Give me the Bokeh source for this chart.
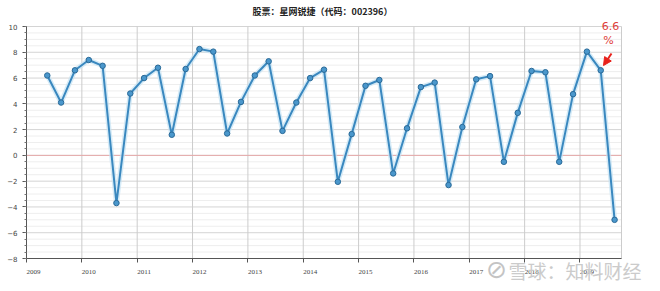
from bokeh.plotting import figure
from bokeh.models import (FixedTicker, Label, LabelSet, ColumnDataSource, Arrow,
                          NormalHead)
from bokeh.embed import file_html
from bokeh.resources import INLINE

title_text = "股票：星网锐捷（代码：002396）"
quarters = ["2009Q2", "2009Q3", "2009Q4",
            "2010Q1", "2010Q2", "2010Q3", "2010Q4",
            "2011Q1", "2011Q2", "2011Q3", "2011Q4",
            "2012Q1", "2012Q2", "2012Q3", "2012Q4",
            "2013Q1", "2013Q2", "2013Q3", "2013Q4",
            "2014Q1", "2014Q2", "2014Q3", "2014Q4",
            "2015Q1", "2015Q2", "2015Q3", "2015Q4",
            "2016Q1", "2016Q2", "2016Q3", "2016Q4",
            "2017Q1", "2017Q2", "2017Q3", "2017Q4",
            "2018Q1", "2018Q2", "2018Q3", "2018Q4",
            "2019Q1", "2019Q2", "2019Q3"]
values = [6.2, 4.1, 6.6,
          7.4, 6.95, -3.7, 4.8,
          6.0, 6.8, 1.6, 6.7,
          8.25, 8.05, 1.7, 4.15,
          6.2, 7.3, 1.9, 4.1,
          6.0, 6.65, -2.05, 1.65,
          5.4, 5.85, -1.4, 2.1,
          5.3, 5.65, -2.3, 2.2,
          5.9, 6.15, -0.5, 3.3,
          6.55, 6.45, -0.5, 4.75,
          8.05, 6.6, -5.0]
year_ticks = [2009, 2010, 2011, 2012, 2013, 2014, 2015, 2016, 2017, 2018, 2019]
y_ticks = [-8, -6, -4, -2, 0, 2, 4, 6, 8, 10]
watermark = "雪球：知料财经"

# axis extents of the plotting area
X_START, X_END = 2009, 2019.75
Y_START, Y_END = -8, 10

# pixel geometry of the plotting area inside the 660x291 canvas
W, H = 660, 291
LEFT, RIGHT, TOP, BOTTOM = 26, 621, 26, 258
PPX = (RIGHT - LEFT) / (X_END - X_START)
PPY = (BOTTOM - TOP) / (Y_END - Y_START)


def sx(px):
    return X_START + (px - LEFT) / PPX


def sy(py):
    return Y_END - (py - TOP) / PPY


# quarter -> fractional year (middle of quarter)
xs = [int(q[:4]) + (int(q[5]) - 0.5) / 4 for q in quarters]

p = figure(width=W, height=H, output_backend="svg", toolbar_location=None,
           x_range=(sx(0), sx(W)), y_range=(sy(H), sy(0)), min_border=0)
p.background_fill_color = "#ffffff"
p.border_fill_color = "#ffffff"
p.outline_line_color = None
p.grid.visible = False

# manual grid limited to the plotting area
minor_y = [v / 2 for v in range(2 * Y_START, 2 * Y_END + 1) if v % 4 != 0]
p.segment(x0=[X_START] * len(minor_y), x1=[X_END] * len(minor_y),
          y0=minor_y, y1=minor_y, line_color="#eeeeee", line_width=1)
p.segment(x0=[X_START] * len(y_ticks), x1=[X_END] * len(y_ticks),
          y0=y_ticks, y1=y_ticks, line_color="#d4d4d4", line_width=1)
vx = year_ticks[1:] + [X_END]
p.segment(x0=vx, x1=vx, y0=[Y_START] * len(vx), y1=[Y_END] * len(vx),
          line_color="#cccccc", line_width=1)
p.segment(x0=[X_START], x1=[X_END], y0=[0], y1=[0],
          line_color="#e6a9a9", line_width=1)

# axes drawn at fixed locations
p.xaxis.fixed_location = Y_START
p.xaxis.bounds = (X_START, X_END)
p.xaxis.ticker = FixedTicker(ticks=year_ticks)
p.xaxis.major_label_text_alpha = 0
p.xaxis.major_label_text_font_size = "7px"
p.xaxis.axis_line_color = "#555555"
p.xaxis.major_tick_line_color = "#555555"
p.xaxis.major_tick_out = 4
p.xaxis.major_tick_in = 0
p.xaxis.minor_tick_line_color = None

p.yaxis.fixed_location = X_START
p.yaxis.bounds = (Y_START, Y_END)
p.yaxis.ticker = FixedTicker(ticks=y_ticks,
                             minor_ticks=[v / 2 for v in range(2 * Y_START, 2 * Y_END + 1)])
p.yaxis.axis_line_color = "#555555"
p.yaxis.major_tick_line_color = "#555555"
p.yaxis.minor_tick_line_color = "#777777"
p.yaxis.major_tick_out = 4
p.yaxis.major_tick_in = 0
p.yaxis.minor_tick_out = 2
p.yaxis.minor_tick_in = 0
p.yaxis.major_label_standoff = 5
p.yaxis.major_label_text_font = "DejaVu Sans"
p.yaxis.major_label_text_font_size = "7px"
p.yaxis.major_label_text_color = "#444444"

# x labels, left-aligned at the ticks
lab_src = ColumnDataSource(dict(x=year_ticks, y=[sy(271)] * len(year_ticks),
                                t=[str(y) for y in year_ticks]))
p.add_layout(LabelSet(x="x", y="y", text="t", source=lab_src,
                      text_font="DejaVu Sans", text_font_size="7px",
                      text_color="#444444", text_align="left",
                      text_baseline="middle"))

# series (glow + line + markers)
src = ColumnDataSource(dict(x=xs, y=values))
p.line("x", "y", source=src, line_color="#c4e2f3", line_width=5, line_alpha=0.7)
p.line("x", "y", source=src, line_color="#3a88bf", line_width=2)
p.scatter("x", "y", source=src, size=5.5, fill_color="#4a97cc",
          line_color="#2a6a98", line_width=1)

# title
p.add_layout(Label(x=sx(322), y=sy(11), text=title_text, text_align="center",
                   text_baseline="middle", text_font="Noto Sans CJK SC",
                   text_font_size="9px", text_font_style="bold",
                   text_color="#222222"))

# annotation for the second-to-last value
xa, ya = xs[-2], values[-2]
p.add_layout(Label(x=sx(610), y=sy(25), text=f"{ya:.1f}", text_align="center",
                   text_baseline="middle", text_font="DejaVu Sans",
                   text_font_size="11px", text_color="#e0403a"))
p.add_layout(Label(x=sx(608), y=sy(40), text="%", text_align="center",
                   text_baseline="middle", text_font="DejaVu Sans",
                   text_font_size="11px", text_color="#e0403a"))
p.add_layout(Arrow(x_start=sx(611), y_start=sy(53), x_end=sx(603), y_end=sy(65),
                   line_color="#e8221c", line_width=2,
                   end=NormalHead(size=8, fill_color="#e8221c",
                                  line_color="#e8221c")))

# watermark
p.add_layout(Label(x=sx(496), y=sy(269), text="⊘", text_align="center",
                   text_baseline="middle", text_font="DejaVu Sans",
                   text_font_size="25px", text_color="#c4c4c4"))
p.add_layout(Label(x=sx(508), y=sy(270), text=watermark, text_align="left",
                   text_baseline="middle", text_font="Noto Sans CJK SC",
                   text_font_size="19px", text_color="#cbcbcb"))

open("out.html", "w").write(file_html(p, INLINE))
